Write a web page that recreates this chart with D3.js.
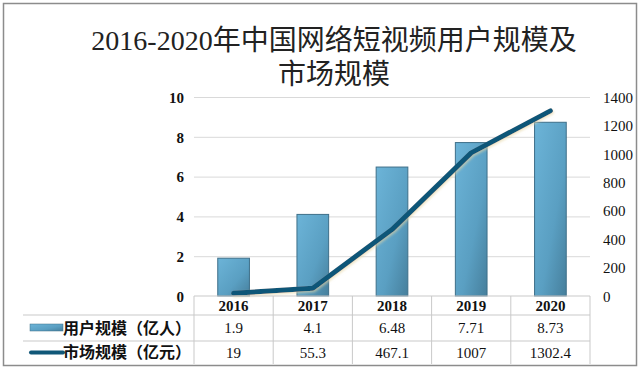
<html>
<head>
<meta charset="utf-8">
<title>短视频用户规模及市场规模</title>
<script src="https://cdn.jsdelivr.net/npm/d3@7/dist/d3.min.js"></script>
<style>
	body { margin: 0; background: #fff; }
	.grid line { stroke: #d9d9d9; }
	.grid path { display: none; }
	.tbl line { stroke: #c9c9c9; }
	.title { font-family: "Liberation Serif", "Noto Sans CJK SC", serif; font-size: 28px; fill: #222; }
	.ltick text { font-family: "Liberation Serif", serif; font-weight: 700; font-size: 15px; fill: #111; }
	.rtick text { font-family: "Liberation Serif", serif; font-size: 15px; fill: #111; }
	.cell { font-family: "Liberation Serif", serif; font-size: 15px; fill: #111; }
	.legend { font-family: "Noto Sans CJK SC", sans-serif; font-weight: 700; font-size: 16px; fill: #111; }
</style>
</head>
<body>
<svg id="chart" width="640" height="370"></svg>
<script>

// data
var years = ["2016", "2017", "2018", "2019", "2020"];
var users = [1.9, 4.1, 6.48, 7.71, 8.73];          // 用户规模（亿人）
var market = [19, 55.3, 467.1, 1007, 1302.4];     // 市场规模（亿元）
var leftTicks = [0, 2, 4, 6, 8, 10];
var rightTicks = [0, 200, 400, 600, 800, 1000, 1200, 1400];
var seriesNames = ["用户规模（亿人）", "市场规模（亿元）"];
var titleLines = ["2016-2020年中国网络短视频用户规模及", "市场规模"];

var svg = d3.select("#chart");

// outer frame
svg.append("rect")
	.attr("x", 3.5).attr("y", 3.5)
	.attr("width", 633).attr("height", 362)
	.attr("fill", "#fff")
	.attr("stroke", "#8c8c8c")
	.attr("stroke-width", 1.5);

// title
svg.selectAll(".title")
	.data(titleLines)
	.enter().append("text")
		.attr("class", "title")
		.attr("x", 334)
		.attr("y", function(d, i) { return 50 + i * 34; })
		.attr("text-anchor", "middle")
		.text(function(d) { return d; });

// scales
var plot = { left: 194, right: 590, top: 97, bottom: 296 };
var x = d3.scaleBand()
	.domain(years)
	.range([plot.left, plot.right])
	.paddingInner(0.6)
	.paddingOuter(0.3);
var band = (plot.right - plot.left) / years.length;
var xc = function(d) { return x(d) + x.bandwidth() / 2; };
var yL = d3.scaleLinear().domain([0, 10]).range([plot.bottom, plot.top]);
var yR = d3.scaleLinear().domain([0, 1400]).range([plot.bottom, plot.top]);

// gridlines
svg.append("g")
	.attr("class", "grid")
	.attr("transform", "translate(" + plot.left + ",0)")
	.call(d3.axisLeft(yL).tickValues(leftTicks.slice(1)).tickSize(-(plot.right - plot.left)).tickFormat(""));

// axes labels
var la = svg.append("g")
	.attr("class", "ltick")
	.attr("transform", "translate(" + 184 + ",0)")
	.call(d3.axisLeft(yL).tickValues(leftTicks).tickSize(0).tickPadding(0).tickFormat(d3.format("d")));
la.select(".domain").remove();
la.selectAll("text").attr("dy", "0.35em");

var ra = svg.append("g")
	.attr("class", "rtick")
	.attr("transform", "translate(" + 603 + ",0)")
	.call(d3.axisRight(yR).tickValues(rightTicks).tickSize(0).tickPadding(0).tickFormat(d3.format("d")));
ra.select(".domain").remove();
ra.selectAll("text").attr("dy", "0.35em");

// bar gradient
var defs = svg.append("defs");
var grad = defs.append("linearGradient")
	.attr("id", "barGrad")
	.attr("x1", "0").attr("y1", "0").attr("x2", "1").attr("y2", "1");
grad.append("stop").attr("offset", "0%").attr("stop-color", "#6cb4d8");
grad.append("stop").attr("offset", "60%").attr("stop-color", "#5a9fc2");
grad.append("stop").attr("offset", "100%").attr("stop-color", "#467f9c");

var shadow = defs.append("filter").attr("id", "glow").attr("x", "-10%").attr("y", "-10%").attr("width", "120%").attr("height", "130%");
shadow.append("feDropShadow")
	.attr("dx", 1).attr("dy", 1.5).attr("stdDeviation", 0.8)
	.attr("flood-color", "#e6d6a4").attr("flood-opacity", 0.6);

// bars
svg.selectAll(".bar")
	.data(users)
	.enter().append("rect")
		.attr("class", "bar")
		.attr("x", function(d, i) { return x(years[i]); })
		.attr("y", function(d) { return yL(d); })
		.attr("width", x.bandwidth())
		.attr("height", function(d) { return yL(0) - yL(d); })
		.attr("fill", "url(#barGrad)")
		.attr("stroke", "#3e6f89")
		.attr("stroke-width", 1);

// line
var line = d3.line()
	.x(function(d, i) { return xc(years[i]); })
	.y(function(d) { return yR(d); })
	.curve(d3.curveLinear);

svg.append("path")
	.datum(market)
	.attr("d", line)
	.attr("fill", "none")
	.attr("stroke", "#105778")
	.attr("stroke-width", 5)
	.attr("stroke-linecap", "round")
	.attr("stroke-linejoin", "round")
	.attr("filter", "url(#glow)");

// data table
var rows = { head: [296, 315], r1: [315, 341], r2: [341, 364] };
var tbl = svg.append("g").attr("class", "tbl");
tbl.append("line").attr("x1", plot.left).attr("x2", plot.right).attr("y1", rows.head[0]).attr("y2", rows.head[0]);
tbl.append("line").attr("x1", 23).attr("x2", plot.right).attr("y1", rows.r1[0]).attr("y2", rows.r1[0]);
tbl.append("line").attr("x1", 23).attr("x2", plot.right).attr("y1", rows.r2[0]).attr("y2", rows.r2[0]);
d3.range(years.length + 1).forEach(function(i) {
	var xx = plot.left + i * band;
	tbl.append("line").attr("x1", xx).attr("x2", xx).attr("y1", rows.head[0]).attr("y2", rows.r2[1]);
});

svg.selectAll(".yearLbl")
	.data(years)
	.enter().append("text")
		.attr("class", "cell")
		.attr("font-weight", 700)
		.attr("x", function(d) { return xc(d); })
		.attr("y", (rows.head[0] + rows.head[1]) / 2)
		.attr("dy", "0.35em")
		.attr("text-anchor", "middle")
		.text(function(d) { return d; });

[users, market].forEach(function(series, k) {
	var r = k === 0 ? rows.r1 : rows.r2;
	svg.selectAll(".val" + k)
		.data(series)
		.enter().append("text")
			.attr("class", "cell")
			.attr("x", function(d, i) { return xc(years[i]); })
			.attr("y", (r[0] + r[1]) / 2)
			.attr("dy", "0.35em")
			.attr("text-anchor", "middle")
			.text(function(d) { return String(d); });
});

// legend keys in table
var ky1 = (rows.r1[0] + rows.r1[1]) / 2;
var ky2 = (rows.r2[0] + rows.r2[1]) / 2;
svg.append("rect")
	.attr("x", 30).attr("y", ky1 - 4)
	.attr("width", 33).attr("height", 7)
	.attr("fill", "url(#barGrad)")
	.attr("stroke", "#3e6f89").attr("stroke-width", 0.5);
svg.append("line")
	.attr("x1", 31).attr("x2", 63)
	.attr("y1", ky2).attr("y2", ky2)
	.attr("stroke", "#105778").attr("stroke-width", 4)
	.attr("stroke-linecap", "round");
svg.selectAll(".legend")
	.data(seriesNames)
	.enter().append("text")
		.attr("class", "legend")
		.attr("x", 63)
		.attr("y", function(d, i) { return i === 0 ? ky1 : ky2; })
		.attr("dy", "0.36em")
		.text(function(d) { return d; });

</script>
</body>
</html>
